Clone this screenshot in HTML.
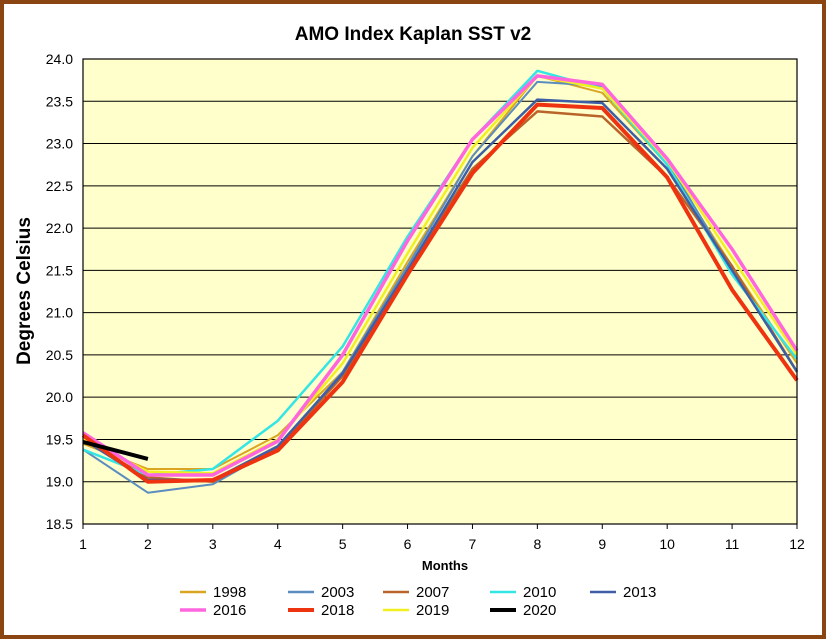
<!DOCTYPE html>
<html><head><style>
html,body{margin:0;padding:0;background:#fff}
svg{display:block}
text{font-family:"Liberation Sans",Arial,sans-serif}
</style></head><body>
<svg id="s" width="826" height="639" xmlns="http://www.w3.org/2000/svg">
<rect x="2" y="2" width="822" height="635" fill="#fff" stroke="#8B4513" stroke-width="4"/>
<rect x="83" y="59" width="714" height="465" fill="#FFFFCC"/>
<g id="grid" stroke="#000" stroke-width="1"></g>
<g id="lines" fill="none" stroke-linejoin="round"></g>
<rect x="83" y="59" width="714" height="465" fill="none" stroke="#000" stroke-width="1.2"/>
<text x="413" y="40" text-anchor="middle" font-size="19" font-weight="bold">AMO Index Kaplan SST v2</text>
<text transform="translate(30,291) rotate(-90)" text-anchor="middle" font-size="19" font-weight="bold">Degrees Celsius</text>
<text x="445" y="570" text-anchor="middle" font-size="13" font-weight="bold">Months</text>
<g id="lab" font-size="14"></g>
<g id="leg" font-size="15"></g>
</svg>
<script>
var NS="http://www.w3.org/2000/svg";
function el(p,t,a,txt){var e=document.createElementNS(NS,t);for(var k in a)e.setAttribute(k,a[k]);if(txt!=null)e.textContent=txt;document.getElementById(p).appendChild(e);}
function X(m){return 83+(m-1)*714/11;}
function Y(v){return 59+(24-v)*465/5.5;}
for(var i=0;i<=11;i++){var v=18.5+i*0.5,y=Y(v);
 if(i>0&&i<11)el("grid","line",{x1:83,x2:797,y1:y,y2:y});
 el("lab","text",{x:73,y:y+5,"text-anchor":"end"},v.toFixed(1));}
for(var m=1;m<=12;m++){var x=X(m);el("grid","line",{x1:x,x2:x,y1:524,y2:529});
 el("lab","text",{x:x,y:549,"text-anchor":"middle"},m);}
var S=[
["1998","#DAA520",2,[19.45,19.15,19.15,19.55,20.3,21.6,22.85,23.8,23.6,22.75,21.55,20.4]],
["2003","#5B8DC0",2,[19.38,18.87,18.97,19.4,20.3,21.55,22.85,23.73,23.68,22.8,21.5,20.3]],
["2007","#B8642A",2.5,[19.5,19.05,19.0,19.4,20.25,21.5,22.7,23.38,23.32,22.6,21.55,20.3]],
["2010","#33E5E5",2.5,[19.38,19.08,19.15,19.72,20.6,21.9,23.05,23.86,23.65,22.75,21.45,20.45]],
["2013","#3E5FA8",2.5,[19.5,19.02,19.02,19.42,20.28,21.5,22.78,23.52,23.48,22.7,21.5,20.3]],
["2019","#F0F020",2.5,[19.5,19.12,19.1,19.5,20.4,21.7,22.95,23.8,23.65,22.8,21.65,20.5]],
["2016","#FF66DD",3.5,[19.58,19.08,19.08,19.48,20.5,21.85,23.05,23.8,23.7,22.82,21.75,20.55]],
["2018","#EE3311",4,[19.55,19.0,19.02,19.37,20.18,21.45,22.65,23.46,23.42,22.6,21.27,20.2]],
["2020","#000000",4,[19.47,19.27]]];
var C={};
S.forEach(function(s){C[s[0]]=s;var p=s[3].map(function(v,i){return X(i+1)+","+Y(v)}).join(" ");
 el("lines","polyline",{points:p,stroke:s[1],"stroke-width":s[2]});});
var L=[["1998",180,592],["2003",288,592],["2007",383,592],["2010",490,592],["2013",590,592],
["2016",180,610],["2018",288,610],["2019",383,610],["2020",490,610]];
L.forEach(function(l){var s=C[l[0]];
 el("leg","line",{x1:l[1],x2:l[1]+26,y1:l[2],y2:l[2],stroke:s[1],"stroke-width":Math.max(s[2],2.5)});
 el("leg","text",{x:l[1]+33,y:l[2]+5},l[0]);});
</script>
</body></html>
